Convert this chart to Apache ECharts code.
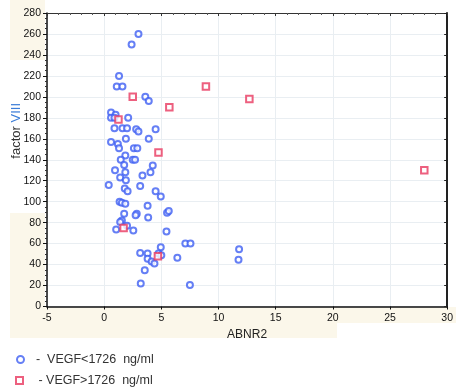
<!DOCTYPE html>
<html>
<head>
<meta charset="utf-8">
<script src="https://cdn.jsdelivr.net/npm/echarts@6/dist/echarts.min.js"></script>
<style>
  html, body { margin: 0; padding: 0; background: #fff; }
  #chart { width: 456px; height: 387px; }
</style>
</head>
<body>
<div id="chart"></div>
<script>
// ABNR2 (x) vs factor VIII (y), split by VEGF group
const lowVegf = [
  [3.0, 260], [2.4, 250], [1.3, 220], [1.1, 210], [1.6, 210], [3.6, 200], [3.9, 196],
  [0.6, 185], [1.0, 183], [0.6, 180], [0.9, 180], [2.1, 180],
  [0.9, 170], [1.6, 170], [2.0, 170], [2.8, 169], [3.0, 167], [4.5, 169],
  [0.6, 157], [1.9, 160], [3.9, 160], [1.2, 155], [1.3, 151], [2.6, 151], [2.9, 151],
  [1.85, 144], [1.45, 140], [2.5, 140], [2.7, 140], [1.75, 135], [4.25, 134.5],
  [0.95, 130], [1.85, 128], [3.35, 125], [4.05, 128], [1.4, 123], [1.9, 120.5],
  [0.4, 116], [3.15, 115], [1.8, 112.5], [2.05, 110], [4.5, 110], [4.95, 105],
  [1.35, 100], [1.55, 99], [1.85, 98], [3.8, 96],
  [1.75, 88.5], [2.85, 88.5], [2.75, 87], [5.5, 89.5], [5.65, 91], [3.85, 85],
  [1.55, 82], [1.4, 80.5], [2.0, 77], [1.05, 73.5], [2.55, 72.5], [5.45, 71.5],
  [4.95, 56.5], [7.1, 60], [7.55, 60], [11.8, 54.5], [11.75, 44.5],
  [3.15, 51], [3.8, 50.5], [4.75, 50.5], [5.0, 49], [3.8, 45.5], [4.15, 43], [4.4, 41],
  [6.4, 46.5], [3.55, 34.5], [3.2, 22], [7.5, 20.5]
];
const highVegf = [
  [2.5, 200], [5.7, 190], [8.9, 210], [12.7, 198], [1.25, 178.5],
  [4.75, 147], [28, 130], [1.7, 75], [4.7, 48]
];
const seriesNames = ['VEGF<1726  ng/ml', 'VEGF>1726  ng/ml'];
const xRange = [-5, 30];
const yRange = [0, 280];

const blue = '#3f5ff2';
const red = '#e8385f';
const cream = '#fbf7ea';

const chart = echarts.init(document.getElementById('chart'));

chart.setOption({
  animation: false,
  textStyle: { fontFamily: 'Liberation Sans, Arial, sans-serif' },
  grid: { left: 47, right: 3, top: 13, bottom: 80.5 },
  graphic: [
    // faint cream patches seen behind the labels
    { type: 'rect', shape: { x: 10, y: 0, width: 35, height: 60 }, style: { fill: cream }, z: -10 },
    { type: 'rect', shape: { x: 10, y: 213, width: 35, height: 94 }, style: { fill: cream }, z: -10 },
    { type: 'rect', shape: { x: 10, y: 307, width: 327, height: 31 }, style: { fill: cream }, z: -10 },
    { type: 'rect', shape: { x: 337, y: 307, width: 119, height: 16 }, style: { fill: cream }, z: -10 },
    {
      type: 'text', left: 10, top: 103, rotation: Math.PI / 2,
      style: {
        text: '{a|factor }{b|VIII}',
        rich: {
          a: { fontSize: 13, fill: '#333', fontFamily: 'Liberation Sans' },
          b: { fontSize: 13, fill: '#3b7dd8', fontFamily: 'Liberation Sans' }
        }
      }
    }
  ],
  legend: [
    {
      data: [seriesNames[0]], orient: 'vertical', left: 11, top: 348,
      itemWidth: 7, itemHeight: 7,
      formatter: '  -  {name}',
      textStyle: { fontSize: 12.5, color: '#333', fontFamily: 'Liberation Sans' }
    },
    {
      data: [seriesNames[1]], orient: 'vertical', left: 10, top: 369,
      itemWidth: 7, itemHeight: 7,
      formatter: '   - {name}',
      textStyle: { fontSize: 12.5, color: '#333', fontFamily: 'Liberation Sans' }
    }
  ],
  xAxis: [
    {
      type: 'value', min: xRange[0], max: xRange[1], interval: 5,
      name: 'ABNR2', nameLocation: 'middle', nameGap: 22,
      nameTextStyle: { fontSize: 12, color: '#222' },
      axisLine: { onZero: false, lineStyle: { color: '#111', width: 1.5 } },
      axisTick: { show: true, length: 3, lineStyle: { color: '#111' } },
      axisLabel: { fontSize: 10.5, color: '#111', margin: 6 },
      splitLine: { show: true, lineStyle: { color: '#e9eef2', width: 1 } }
    },
    {
      type: 'value', position: 'top', min: xRange[0], max: xRange[1], interval: 5,
      axisLine: { show: true, onZero: false, lineStyle: { color: '#333', width: 1 } },
      axisTick: { show: true, inside: true, length: 3, lineStyle: { color: '#333' } },
      minorTick: { show: true, splitNumber: 5, length: 2, lineStyle: { color: '#555' } },
      axisLabel: { show: false },
      splitLine: { show: false }
    }
  ],
  yAxis: [
    {
      type: 'value', min: yRange[0], max: yRange[1], interval: 20,
      axisLine: { show: true, onZero: false, lineStyle: { color: '#111', width: 1.5 } },
      axisTick: { show: true, length: 4, lineStyle: { color: '#111' } },
      minorTick: { show: true, splitNumber: 4, length: 2, lineStyle: { color: '#333' } },
      axisLabel: { fontSize: 10.5, color: '#111', margin: 6 },
      splitLine: { show: true, lineStyle: { color: '#e9eef2', width: 1 } }
    },
    {
      type: 'value', position: 'right', min: yRange[0], max: yRange[1], interval: 20,
      axisLine: { show: true, onZero: false, lineStyle: { color: '#222', width: 2 } },
      axisTick: { show: true, inside: true, length: 3, lineStyle: { color: '#222' } },
      axisLabel: { show: false },
      splitLine: { show: false }
    }
  ],
  series: [
    {
      name: seriesNames[0], type: 'scatter', data: lowVegf,
      symbol: 'emptyCircle', symbolSize: 6,
      itemStyle: { color: blue, borderColor: blue, borderWidth: 1.6 }
    },
    {
      name: seriesNames[1], type: 'scatter', data: highVegf,
      symbol: 'emptyRect', symbolSize: 6.5,
      itemStyle: { color: red, borderColor: red, borderWidth: 1.6 }
    }
  ]
});
</script>
</body>
</html>
